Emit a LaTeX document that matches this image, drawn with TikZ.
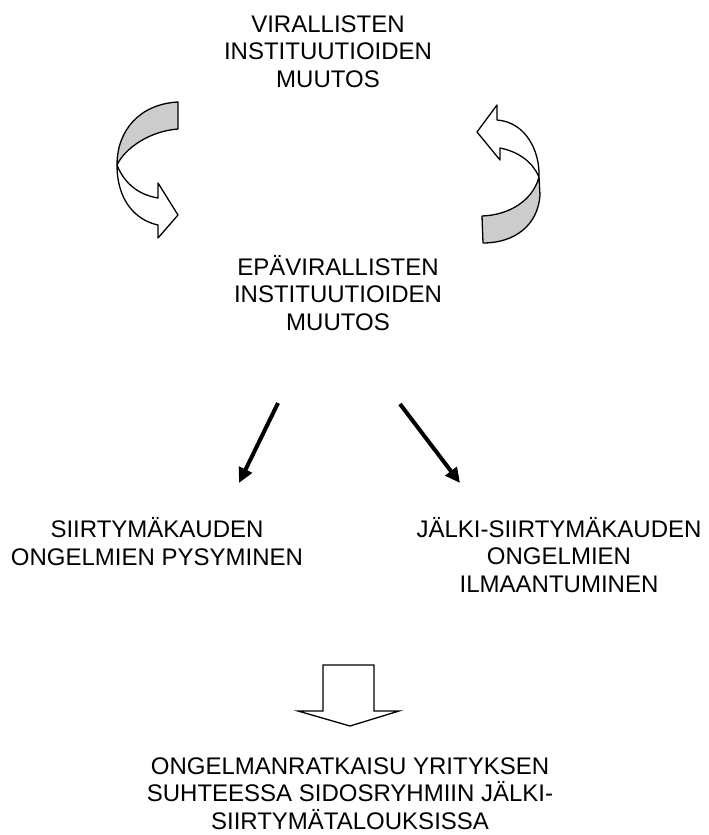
\documentclass[tikz,border=0pt]{standalone}
\usepackage{fontspec}
\setmainfont{Liberation Sans}
\usetikzlibrary{arrows.meta}
\tikzset{
  lbl/.style={align=center, inner sep=0pt, anchor=base, font=\fontsize{24}{27.5}\selectfont},
  band/.style={draw=black, line width=1.3pt, fill=gray!40, line join=round},
  face/.style={draw=black, line width=1.3pt, fill=white, line join=round},
  thick arrow/.style={line width=4pt, -{Triangle[length=15pt,width=14pt]}},
  block/.style={draw=black, line width=1.3pt, fill=white, line join=miter}
}
\begin{document}
\begin{tikzpicture}[x=1pt,y=-1pt]
\useasboundingbox (0,0) rectangle (709,835);

% anchor=base is the baseline of the last line
\node[lbl] (formal) at (328,87) {VIRALLISTEN\\INSTITUUTIOIDEN\\MUUTOS};
\node[lbl] (informal) at (338,330) {EPÄVIRALLISTEN\\INSTITUUTIOIDEN\\MUUTOS};
\node[lbl] (persist) at (157,565) {SIIRTYMÄKAUDEN\\ONGELMIEN PYSYMINEN};
\node[lbl] (emerge) at (559,592) {JÄLKI-SIIRTYMÄKAUDEN\\ONGELMIEN\\ILMAANTUMINEN};
\node[lbl] (solve) at (350,829) {ONGELMANRATKAISU YRITYKSEN\\SUHTEESSA SIDOSRYHMIIN JÄLKI-\\SIIRTYMÄTALOUKSISSA};

% left curved arrow (down)
\path[face] (117,165) .. controls (125,185) and (140,195) .. (158,198)
  -- (158,183) -- (178,215) -- (158,238) -- (158,225)
  .. controls (135,220) and (117,200) .. (117,165) -- cycle;
\path[band] (178,102) .. controls (140,104) and (117,130) .. (117,165)
  .. controls (125,148) and (150,131) .. (178,129) -- cycle;

% right curved arrow (up)
\path[face] (500,148) .. controls (520,152) and (533,163) .. (539,177)
  .. controls (540,150) and (525,122) .. (497,120)
  -- (497,105) -- (477,132) -- (500,160) -- cycle;
\path[band] (539,177) -- (540,195) .. controls (538,225) and (515,243) .. (483,243)
  -- (482,216) .. controls (510,215) and (533,200) .. (539,177) -- cycle;

% straight arrows
\coordinate (a1s) at (278,403);
\coordinate (a1e) at (239,483);
\coordinate (a2s) at (400,404);
\coordinate (a2e) at (460,483);
\draw[thick arrow] (a1s) -- (a1e);
\draw[thick arrow] (a2s) -- (a2e);

% block down arrow
\path[block] (323,665) -- (374,665) -- (374,711) -- (399,711) -- (350,726)
  -- (298,711) -- (323,711) -- cycle;
\end{tikzpicture}
\end{document}
